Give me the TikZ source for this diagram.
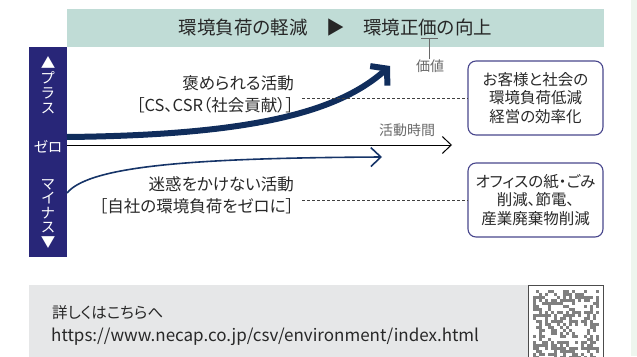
\documentclass[tikz,border=0pt]{standalone}
\usepackage{fontspec}
\newfontfamily\cjk[RawFeature=+palt]{Noto Sans CJK JP}
\usetikzlibrary{arrows.meta}
\definecolor{hdrfill}{RGB}{192,220,214}
\definecolor{sidefill}{RGB}{40,38,120}
\definecolor{thickc}{RGB}{16,45,92}
\definecolor{thinc}{RGB}{22,52,104}
\definecolor{boxc}{RGB}{72,70,140}
\definecolor{txtc}{RGB}{40,40,40}
\definecolor{grayt}{RGB}{105,105,105}
\definecolor{botfill}{RGB}{230,231,232}
\definecolor{stripec}{RGB}{238,245,238}
\begin{document}
\begin{tikzpicture}[x=1pt,y=-1pt,
  every node/.style={font=\cjk, inner sep=0pt, text=txtc},
  hdrbar/.style={fill=hdrfill, minimum width=537pt, minimum height=38pt, font=\cjk\fontsize{18.5}{20}\selectfont, text=black!85},
  sidebar/.style={fill=sidefill, minimum width=38pt, minimum height=210pt},
  sidetxt/.style={text=white, align=center, font=\cjk\fontsize{14.5}{15}\selectfont},
  lbl/.style={anchor=east, align=right, font=\cjk\fontsize{16.5}{22}\selectfont},
  rbox/.style={draw=boxc, line width=1.1pt, rounded corners=8pt, minimum width=135pt, minimum height=74pt, align=center, font=\cjk\fontsize{15.5}{18.5}\selectfont},
  graylbl/.style={text=grayt, font=\cjk\fontsize{14}{16}\selectfont},
  dashline/.style={draw=black!75, line width=0.7pt, dash pattern=on 3pt off 2pt},
  zeroline/.style={draw=black, line width=1pt, -{Straight Barb[length=9pt,width=17pt,line width=1pt]}},
  thickline/.style={draw=thickc, line width=6pt, -{Straight Barb[length=11pt,width=26pt]}},
  thinline/.style={draw=thinc, line width=1.6pt, -{Straight Barb[length=10pt,width=19pt]}},
  qrmod/.style={fill=black!50}
]
\useasboundingbox (0,0) rectangle (637,356);
\fill[stripec] (631,0) rectangle (637,356);

% header
\node[hdrbar] (hdr) at (335.5,28) {環境負荷の軽減　▶　環境正価の向上};
\coordinate (tl) at (421,38.5);
\coordinate (tr) at (438,38.5);
\coordinate (tm) at (429.5,38.5);
\node[graylbl] (val) at (430,66) {価値};
\draw[grayt, line width=0.8pt] (tl) -- (tr);
\draw[grayt, line width=0.8pt] (tm) -- (tm |- val.north);

% side bar
\node[sidebar] (side) at (48,152) {};
\node[sidetxt] (plus) at (48,85.5) {▲\\プ\\ラ\\ス};
\node[sidetxt] (zero) at (48,147) {ゼロ};
\node[sidetxt, font=\cjk\fontsize{14.5}{14.5}\selectfont] (minus) at (48,214) {マ\\イ\\ナ\\ス\\▼};

% zero line
\coordinate (z0) at (67,145);
\coordinate (z1) at (452,145);
\draw[zeroline] (z0) -- (z1);
\node[graylbl] (time) at (407,130) {活動時間};

% curves
\coordinate (p0) at (67,137);
\coordinate (p1) at (390,66);
\draw[thickline] (p0) .. controls (260,135) and (340,110) .. (p1);
\coordinate (m0) at (67,193);
\coordinate (m1) at (382,157);
\draw[thinline] (m0) .. controls (90,165) and (200,158) .. (m1);

% labels
\node[lbl] (plbl) at (294,94) {褒められる活動\\［CS、CSR（社会貢献）］};
\node[lbl] (mlbl) at (294,195) {迷惑をかけない活動\\［自社の環境負荷をゼロに］};

% boxes
\node[rbox] (b1) at (535.5,98) {お客様と社会の\\環境負荷低減\\経営の効率化};
\node[rbox] (b2) at (535.5,200) {オフィスの紙・ごみ\\削減、節電、\\産業廃棄物削減};
\coordinate (d1) at (302,98);
\coordinate (d2) at (302,200);
\draw[dashline] (d1) -- (b1.west);
\draw[dashline] (d2) -- (b2.west);

% bottom
\fill[botfill] (29,285) rectangle (528,358);
\node[anchor=west, font=\cjk\fontsize{15.5}{17}\selectfont] (more) at (52,313) {詳しくはこちらへ};
\node[anchor=west, font=\cjk\fontsize{17}{19}\selectfont] (url) at (51,337) {https://www.necap.co.jp/csv/environment/index.html};
\draw[black!70, line width=0.9pt, fill=white] (528,285) rectangle (603,360);
\begin{scope}
\clip (531,288) rectangle (600,356);
\pgfmathsetseed{42}
\foreach \i in {0,...,21}{
  \foreach \j in {0,...,22}{
    \pgfmathrandominteger{\qrv}{0}{1}
    \ifnum\qrv>0 \fill[qrmod] (533+\i*3,290+\j*3) rectangle ++(3,3); \fi
  }
}
\end{scope}
\end{tikzpicture}
\end{document}
